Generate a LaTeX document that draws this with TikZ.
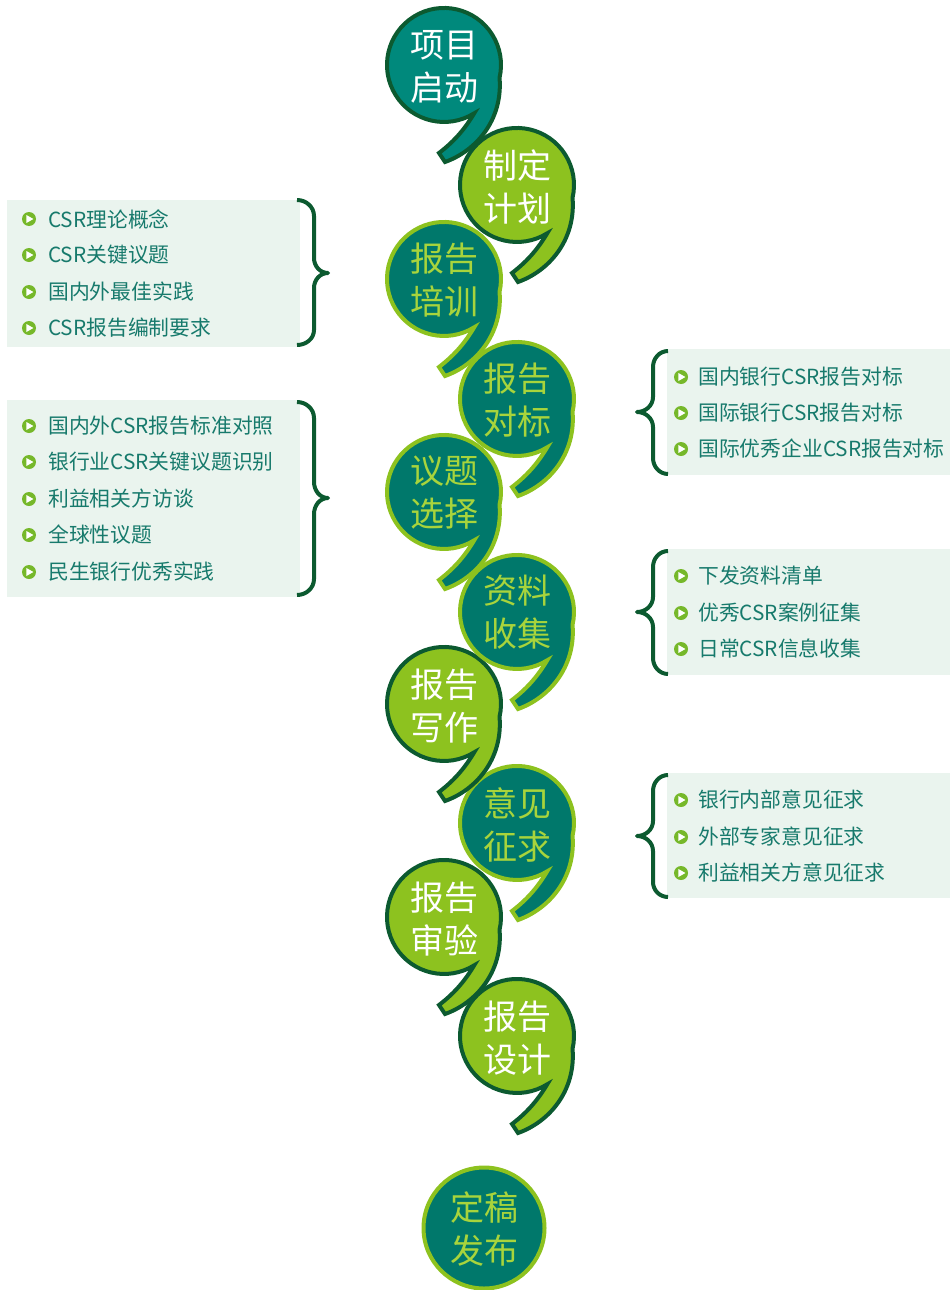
\documentclass[tikz,border=0pt]{standalone}
\usepackage{fontspec}
\newfontfamily\cjk{Noto Sans CJK SC}
\definecolor{tealA}{HTML}{00897C}
\definecolor{tealC}{HTML}{00786B}
\definecolor{leaf}{HTML}{8DC21F}
\definecolor{darkg}{HTML}{0C5A30}
\definecolor{txtg}{HTML}{A8D43C}
\definecolor{listbg}{HTML}{EAF4EE}
\definecolor{listtxt}{HTML}{177A6C}
\definecolor{bul}{HTML}{76B82A}
\tikzset{
  bubtxt/.style={font=\cjk\fontsize{34}{43}\selectfont, align=center, inner sep=0pt},
  bubA/.style={fill=tealA, draw=darkg, line width=4pt},
  bubB/.style={fill=leaf, draw=darkg, line width=4pt},
  bubC/.style={fill=tealC, draw=leaf, line width=4pt},
  bubble/.pic={
    \path[pic actions] (30.2,-48.3) arc[start angle=-58, end angle=-373, radius=57]
      .. controls (59,-55) and (32,-86) .. (1,-97) -- (-5,-88)
      .. controls (12,-75) and (22,-62) .. (30.2,-48.3) -- cycle;
  },
  itemtxt/.style={font=\cjk\fontsize{20.8}{24}\selectfont, text=listtxt, anchor=west, inner sep=0pt},
  bullet/.style={circle, fill=bul, minimum size=14pt, inner sep=0pt,
    path picture={\fill[white] ([xshift=-2.6pt,yshift=-4pt]path picture bounding box.center)
      -- ([xshift=-2.6pt,yshift=4pt]path picture bounding box.center)
      -- ([xshift=4.4pt]path picture bounding box.center) -- cycle;}},
  bracepath/.style={draw=darkg, line width=4pt, line join=round}
}
\begin{document}
\begin{tikzpicture}[x=1pt, y=1pt, yscale=-1]
\useasboundingbox (0,0) rectangle (950,1290);

% list boxes
\fill[listbg] (7,200) rectangle (300,347);
\fill[listbg] (7,400) rectangle (300,597);
\fill[listbg] (667,349) rectangle (950,475);
\fill[listbg] (667,549) rectangle (950,675);
\fill[listbg] (667,773) rectangle (950,898);

% braces
\draw[bracepath] (297,200) to[out=0,in=-90] (314,216) -- (314,258) to[out=90,in=180] (328,273)
  to[out=180,in=-90] (314,288) -- (314,330) to[out=90,in=0] (297,345);
\draw[bracepath] (297,402) to[out=0,in=-90] (314,418) -- (314,482) to[out=90,in=180] (328,498)
  to[out=180,in=-90] (314,514) -- (314,579) to[out=90,in=0] (297,595);
\draw[bracepath] (668,351) to[out=180,in=-90] (653,367) -- (653,397) to[out=90,in=0] (637,412)
  to[out=0,in=-90] (653,427) -- (653,458) to[out=90,in=180] (668,474);
\draw[bracepath] (668,551) to[out=180,in=-90] (653,567) -- (653,597) to[out=90,in=0] (637,612)
  to[out=0,in=-90] (653,627) -- (653,658) to[out=90,in=180] (668,674);
\draw[bracepath] (668,775) to[out=180,in=-90] (653,791) -- (653,821) to[out=90,in=0] (637,836)
  to[out=0,in=-90] (653,851) -- (653,882) to[out=90,in=180] (668,897);

% list items
\foreach \y/\t [count=\i] in {219/CSR理论概念, 255/CSR关键议题, 292/国内外最佳实践, 328/CSR报告编制要求,
  426/国内外CSR报告标准对照, 462/银行业CSR关键议题识别, 499/利益相关方访谈, 535/全球性议题, 572/民生银行优秀实践}{
  \node[bullet] (lb\i) at (29,\y) {};
  \node[itemtxt] (lt\i) at (48,\y) {\t};
}
\foreach \y/\t [count=\i] in {377/国内银行CSR报告对标, 413/国际银行CSR报告对标, 449/国际优秀企业CSR报告对标,
  576/下发资料清单, 613/优秀CSR案例征集, 649/日常CSR信息收集,
  800/银行内部意见征求, 837/外部专家意见征求, 873/利益相关方意见征求}{
  \node[bullet] (rb\i) at (681,\y) {};
  \node[itemtxt] (rt\i) at (698,\y) {\t};
}

% bubbles (drawn bottom-up so upper ones lie on top)
\node[circle, fill=tealC, draw=leaf, line width=4pt, minimum size=121pt, inner sep=0pt] (c11) at (484,1228) {};
\node[bubtxt, text=txtg] (n11) at (484,1229) {定稿\\发布};

\pic[bubB] at (517,1036) {bubble};
\node[bubtxt, text=white] (n10) at (517,1038) {报告\\设计};
\pic[bubB] at (444,917) {bubble};
\node[bubtxt, text=white] (n9) at (444,919) {报告\\审验};
\pic[bubC] at (517,823) {bubble};
\node[bubtxt, text=txtg] (n8) at (517,825) {意见\\征求};
\pic[bubB] at (444,704) {bubble};
\node[bubtxt, text=white] (n7) at (444,706) {报告\\写作};
\pic[bubC] at (517,612) {bubble};
\node[bubtxt, text=txtg] (n6) at (517,612) {资料\\收集};
\pic[bubC] at (444,492) {bubble};
\node[bubtxt, text=txtg] (n5) at (444,492) {议题\\选择};
\pic[bubC] at (517,399) {bubble};
\node[bubtxt, text=txtg] (n4) at (517,400) {报告\\对标};
\pic[bubC] at (444,279) {bubble};
\node[bubtxt, text=txtg] (n3) at (444,280) {报告\\培训};
\pic[bubB] at (517,185) {bubble};
\node[bubtxt, text=white] (n2) at (517,187) {制定\\计划};
\pic[bubA] at (444,65) {bubble};
\node[bubtxt, text=white] (n1) at (444,67) {项目\\启动};
\end{tikzpicture}
\end{document}
